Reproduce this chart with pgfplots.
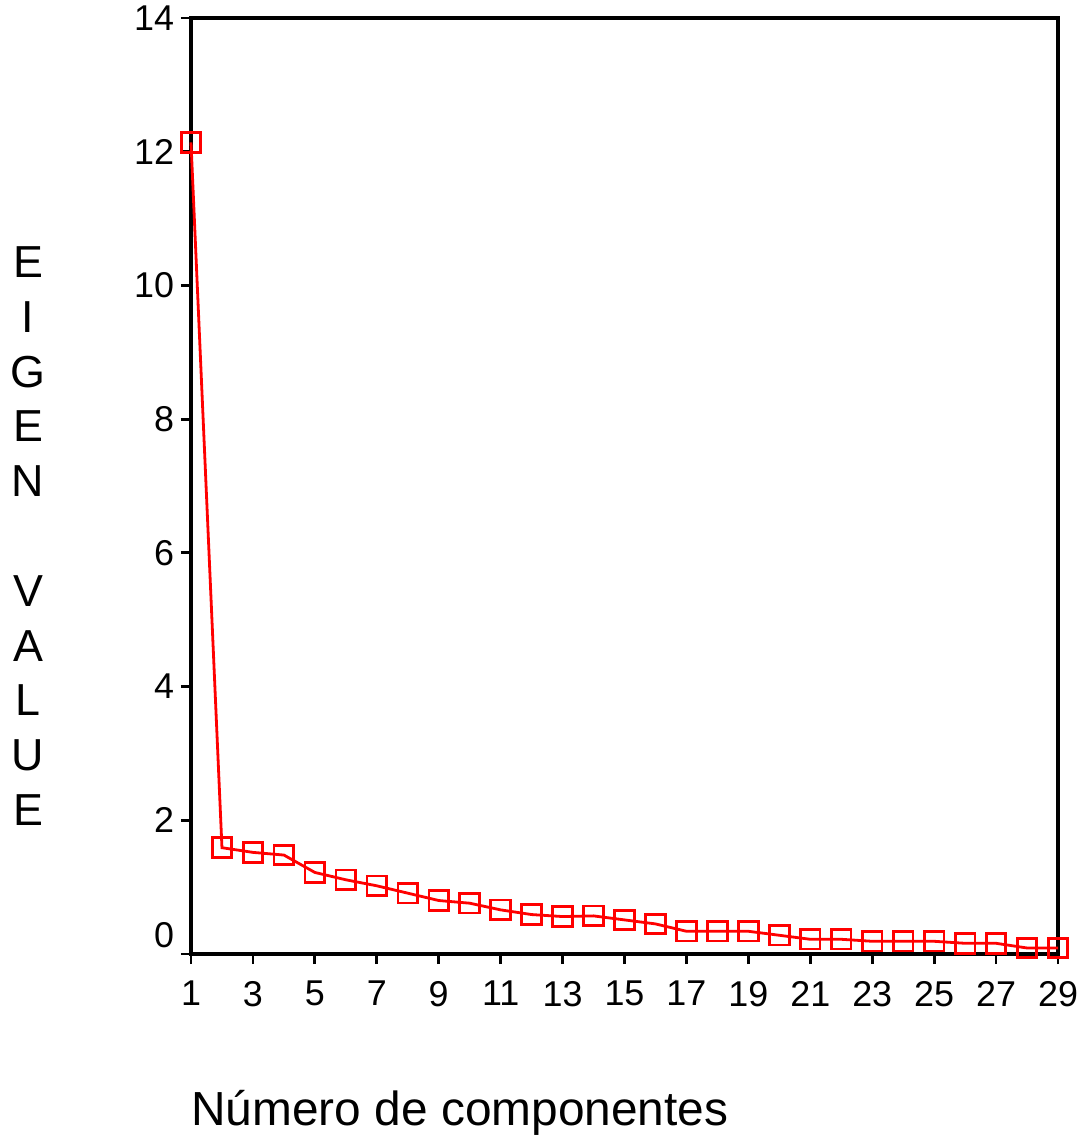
\documentclass[border=0pt]{standalone}
\usepackage{fontspec}
\setmainfont{Liberation Sans}
\usepackage{pgfplots}
\pgfplotsset{compat=1.18}
\begin{document}
\begin{tikzpicture}
\useasboundingbox (-95.5bp,-94bp) rectangle (449.5bp,477bp);
\begin{axis}[
  scale only axis,
  width=433.5bp, height=468bp,
  at={(0,0)}, anchor=south west,
  xmin=1, xmax=29, ymin=0, ymax=14,
  xtick={1,3,...,29},
  ytick={0,2,...,14},
  yticklabels={\raisebox{19bp}{0},2,4,6,8,10,12,14},
  tick align=outside,
  tick pos=left,
  major tick length=5bp,
  axis line style={line width=1.6bp},
  every tick/.style={black, line width=1.4bp},
  tick label style={font=\fontsize{18}{20}\selectfont},
  /pgf/number format/assume math mode=true,
  xticklabel style={yshift=-5bp},
  clip=false,
]
\addplot[red, line width=1.4bp, mark=square, mark size=4.9bp, mark options={line width=1.4bp, fill=none}]
coordinates {
(1,12.14) (2,1.59) (3,1.52) (4,1.48) (5,1.22) (6,1.11) (7,1.02) (8,0.91) (9,0.80)
(10,0.76) (11,0.66) (12,0.59) (13,0.56) (14,0.57) (15,0.51) (16,0.45) (17,0.34)
(18,0.34) (19,0.34) (20,0.28) (21,0.22) (22,0.22) (23,0.19) (24,0.19) (25,0.19)
(26,0.16) (27,0.16) (28,0.09) (29,0.09)
};
\end{axis}
\node[anchor=base west, inner sep=0pt, font=\fontsize{24}{28}\selectfont] at (0,-85.5bp) {Número de componentes};
\node[align=center, inner sep=0pt, font=\fontsize{22.5}{27.5}\selectfont] at (-81.5bp,209bp) {E\\I\\G\\E\\N\\ \\V\\A\\L\\U\\E};
\end{tikzpicture}
\end{document}
